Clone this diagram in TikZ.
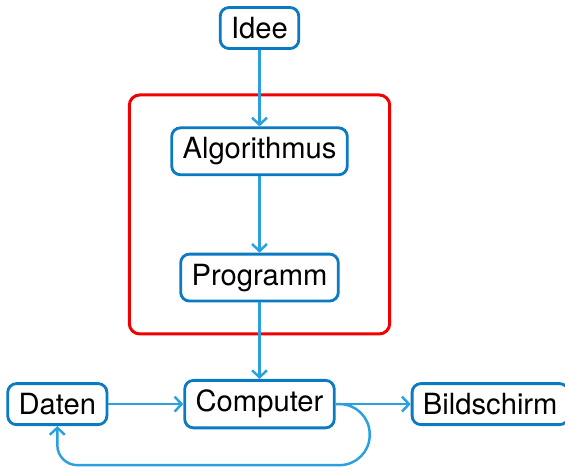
\documentclass[tikz,border=0pt]{standalone}
\usepackage{fontspec}
\setmainfont{TeX Gyre Heros}
\usepackage{tikz}
\usetikzlibrary{positioning, fit, calc, arrows.meta}

\definecolor{boxblue}{RGB}{10,122,194}
\definecolor{linkblue}{RGB}{42,160,222}
\definecolor{framered}{RGB}{240,0,0}

\begin{document}
\begin{tikzpicture}[auto,
    ->,
    >={Straight Barb[length=4pt, width=8.5pt]},
    node distance=1.53cm and 1.5cm,
    bb/.style={%
      rectangle, rounded corners=5pt, draw=boxblue, line width=1.6pt, fill=white,
      font=\fontsize{16.6}{20}\selectfont, inner xsep=6.2pt, inner ysep=5.5pt, align=center
    },
    flow/.style={draw=linkblue, line width=1.4pt},
    frame/.style={%
      rectangle, rounded corners=6pt, draw=framered, line width=1.7pt,
      inner xsep=0.82cm, inner ysep=0.63cm
    }
]
    \useasboundingbox (-5.19,0.56) rectangle (6.11,-8.78);

    \node[bb] (idee)                   {Idee};
    \node[bb] (algo)  [below = of idee] {Algorithmus};
    \node[bb] (prog)  [below = of algo] {Programm};
    \node[bb] (comp)  [below = of prog] {Computer};
    \node[bb] (daten) [left = of comp]  {Daten};
    \node[bb] (bild)  [right = of comp] {Bildschirm};

    % rahmen um algorithmus und programm
    \node[frame, fit=(algo)(prog)] (box) {};

    \coordinate (loop) at ($(comp.east)+(0.68,-1.22)$);

    \draw[flow] (idee) -- (algo);
    \draw[flow] (algo) -- (prog);
    \draw[flow] (prog) -- (comp);
    \draw[flow] (daten) -- (comp);
    \draw[flow] (comp) -- (bild);
    \draw[flow] (comp.east) [rounded corners=0.6cm] -| (loop)
                            [rounded corners=0.4cm] -| (daten.south);

  \end{tikzpicture}
\end{document}
